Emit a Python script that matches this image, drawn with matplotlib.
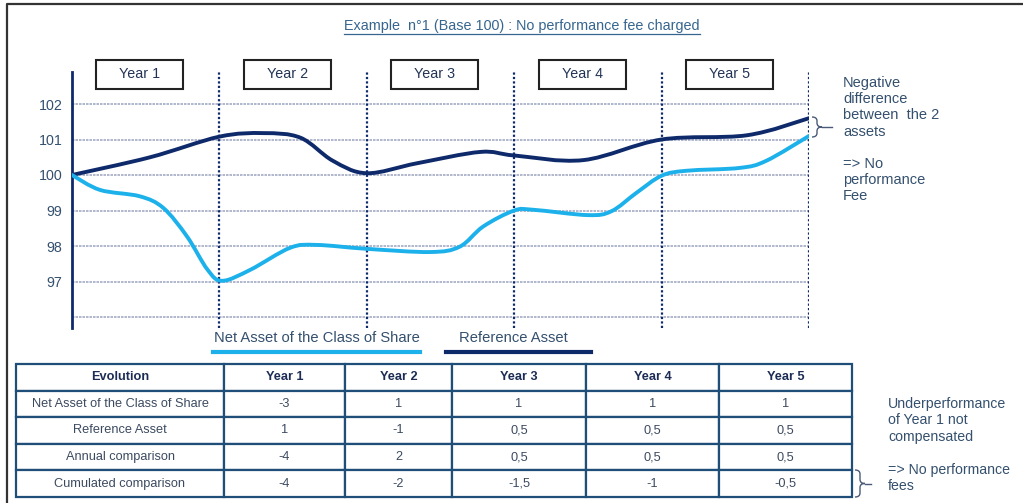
import matplotlib
matplotlib.use("Agg")
import matplotlib.pyplot as plt
from matplotlib.path import Path
from matplotlib.patches import PathPatch, Rectangle
from matplotlib.lines import Line2D
import numpy as np

plt.rcParams['font.family'] = ['Liberation Sans', 'DejaVu Sans']

# ---------------- data ----------------
title = "Example  n°1 (Base 100) : No performance fee charged"
years = ["Year 1", "Year 2", "Year 3", "Year 4", "Year 5"]

ref_x = [0, 0.53, 1.0, 1.3, 1.55, 1.77, 2.0, 2.34, 2.77, 3.0, 3.47, 4.0, 4.58, 5.0]
ref_y = [100.0, 100.5, 101.08, 101.18, 101.05, 100.4, 100.05, 100.33, 100.65, 100.55,
         100.42, 101.0, 101.12, 101.6]

nav_x = [0, 0.19, 0.46, 0.62, 0.78, 0.92, 1.02, 1.21, 1.48, 1.66, 2.0, 2.43, 2.63,
         2.79, 3.0, 3.13, 3.5, 3.66, 3.83, 4.0, 4.17, 4.53, 4.71, 5.0]
nav_y = [100.0, 99.58, 99.4, 99.07, 98.27, 97.33, 97.02, 97.33, 97.95, 98.03, 97.92,
         97.83, 97.98, 98.55, 99.0, 99.02, 98.87, 98.98, 99.5, 99.98, 100.12, 100.2,
         100.4, 101.1]

grid_levels = [96, 97, 98, 99, 100, 101, 102]
tick_labels = ["", "97", "98", "99", "100", "101", "102"]

nav_label = "Net Asset of the Class of Share"
ref_label = "Reference Asset"

table_header = ["Evolution", "Year 1", "Year 2", "Year 3", "Year 4", "Year 5"]
row_labels = ["Net Asset of the Class of Share", "Reference Asset",
              "Annual comparison", "Cumulated comparison"]
row_nav = ["-3", "1", "1", "1", "1"]
row_ref = ["1", "-1", "0,5", "0,5", "0,5"]
row_annual = ["-4", "2", "0,5", "0,5", "0,5"]
row_cumul = ["-4", "-2", "-1,5", "-1", "-0,5"]

note_chart = "Negative\ndifference\nbetween  the 2\nassets\n\n=> No\nperformance\nFee"
note_table = "Underperformance\nof Year 1 not\ncompensated\n\n=> No performance\nfees"

# ---------------- style ----------------
W, H = 1023, 503
NAVY = "#0f2a6b"
LIGHT = "#1cb1ea"
TXT = "#34506e"
TITLE_C = "#36668f"

fig = plt.figure(figsize=(W / 100, H / 100), dpi=100)
fig.patch.set_facecolor("white")


def fx(x):
    return x / W


def fy(y):
    return 1 - y / H


# outer frame (top and left)
fig.add_artist(Line2D([fx(7), fx(7), fx(W)], [fy(H), fy(4), fy(4)],
                      transform=fig.transFigure, color="#333333", lw=1.6))

# title with underline
t = fig.text(fx(522), fy(26), title, ha="center", va="center", fontsize=10.4, color=TITLE_C)

# chart axes
ax = fig.add_axes([fx(72), fy(328), (809 - 72) / W, (328 - 72) / H])
ax.set_xlim(0, 5)
ax.set_ylim(100 - (328 - 175) / 35.5, 100 + (175 - 72) / 35.5)
for s in ["top", "right", "bottom"]:
    ax.spines[s].set_visible(False)
ax.spines["left"].set_color(NAVY)
ax.spines["left"].set_linewidth(2)
ax.set_xticks([])
ax.set_yticks(grid_levels)
ax.set_yticklabels(tick_labels)
ax.tick_params(axis="y", length=0, pad=7, labelsize=10.3, labelcolor=TXT)
for g in grid_levels:
    ax.axhline(g, color="#a3aac4", lw=1.2, ls=(0, (1.5, 0.6)), zorder=1)
for i in range(1, 6):
    ax.axvline(i, color=NAVY, lw=1.6, ls=(0, (1, 1)), zorder=2)


def smooth_path(xs, ys):
    pts = np.column_stack([xs, ys]).astype(float)
    n = len(pts)
    verts = [pts[0]]
    codes = [Path.MOVETO]
    for i in range(n - 1):
        p0 = pts[i - 1] if i > 0 else pts[i]
        p1 = pts[i]
        p2 = pts[i + 1]
        p3 = pts[i + 2] if i + 2 < n else pts[i + 1]
        c1 = p1 + (p2 - p0) / 6.0
        c2 = p2 - (p3 - p1) / 6.0
        verts += [c1, c2, p2]
        codes += [Path.CURVE4] * 3
    return Path(verts, codes)


ax.add_patch(PathPatch(smooth_path(ref_x, ref_y), fc="none", ec=NAVY, lw=2.8,
                       capstyle="round", joinstyle="round", zorder=4))
ax.add_patch(PathPatch(smooth_path(nav_x, nav_y), fc="none", ec=LIGHT, lw=2.8,
                       capstyle="round", joinstyle="round", zorder=5))

# year boxes
y_top = 100 + (175 - 60) / 35.5
y_bot = 100 + (175 - 89) / 35.5
bw = 87 / 147.4
for i, lab in enumerate(years):
    cx = i + 0.46
    ax.add_patch(Rectangle((cx - bw / 2, y_bot), bw, y_top - y_bot, fc="white",
                           ec="#222222", lw=1.5, clip_on=False, zorder=6))
    ax.text(cx, (y_top + y_bot) / 2, lab, ha="center", va="center", fontsize=10.3,
            color="#223355", zorder=7, clip_on=False)

# legend
fig.text(fx(317), fy(338), nav_label, ha="center", va="center", fontsize=10.6, color=TXT)
fig.add_artist(Line2D([fx(213), fx(420)], [fy(352), fy(352)], transform=fig.transFigure,
                      color=LIGHT, lw=3))
fig.text(fx(513), fy(338), ref_label, ha="center", va="center", fontsize=10.6, color=TXT)
fig.add_artist(Line2D([fx(446), fx(591)], [fy(352), fy(352)], transform=fig.transFigure,
                      color=NAVY, lw=3))

# notes
fig.text(fx(843), fy(76), note_chart, ha="left", va="top", fontsize=10.5, color=TXT,
         linespacing=1.2)
fig.text(fx(888), fy(397), note_table, ha="left", va="top", fontsize=10.2, color=TXT,
         linespacing=1.22)


def brace(x0, y0, y1, w=10, tick=10):
    ym = (y0 + y1) / 2
    xm = x0 + w / 2
    r = 4
    v = [(x0, y0), (xm, y0), (xm, y0 + r), (xm, ym - r), (xm, ym), (x0 + w, ym),
         (xm, ym), (xm, ym + r), (xm, y1 - r), (xm, y1), (x0, y1)]
    c = [Path.MOVETO, Path.CURVE3, Path.CURVE3, Path.LINETO, Path.CURVE3, Path.CURVE3,
         Path.CURVE3, Path.CURVE3, Path.LINETO, Path.CURVE3, Path.CURVE3]
    v = [(fx(a), fy(b)) for a, b in v]
    fig.add_artist(PathPatch(Path(v, c), fc="none", ec="#4a5a78", lw=1.0,
                             transform=fig.transFigure))
    fig.add_artist(Line2D([fx(x0 + w), fx(x0 + w + tick)], [fy(ym), fy(ym)],
                          transform=fig.transFigure, color="#4a5a78", lw=1.0))


brace(812, 117, 137, w=10, tick=10)
brace(855, 470, 497, w=10, tick=6)

# table
tax = fig.add_axes([fx(16), fy(497), (852 - 16) / W, (497 - 364) / H])
tax.axis("off")
cell_text = [[row_labels[0]] + row_nav, [row_labels[1]] + row_ref,
             [row_labels[2]] + row_annual, [row_labels[3]] + row_cumul]
colw = np.array([208, 121, 107, 134, 133, 133], dtype=float)
tbl = tax.table(cellText=cell_text, colLabels=table_header, cellLoc="center",
                colWidths=list(colw / colw.sum()), bbox=[0, 0, 1, 1])
tbl.auto_set_font_size(False)
for (r, c), cell in tbl.get_celld().items():
    cell.set_edgecolor("#1f4e79")
    cell.set_linewidth(1.6)
    cell.set_facecolor("white")
    if r == 0:
        cell.get_text().set_fontweight("bold")
        cell.get_text().set_color("#1c2c55")
        cell.get_text().set_fontsize(9.2)
    else:
        cell.get_text().set_color("#3c4a60")
        cell.get_text().set_fontsize(9.2)

# underline title
fig.canvas.draw()
bb = t.get_window_extent()
x0, x1 = bb.x0 / (W), bb.x1 / (W)
fig.add_artist(Line2D([x0, x1], [bb.y0 / H - 1.5 / H] * 2, transform=fig.transFigure,
                      color=TITLE_C, lw=0.9))

fig.savefig("out.png", dpi=100, facecolor="white")
